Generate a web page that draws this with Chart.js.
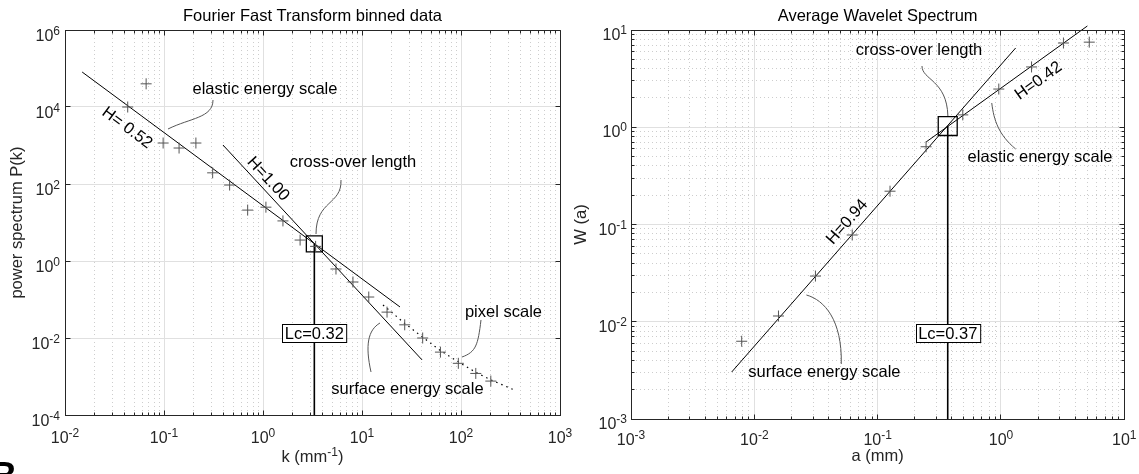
<!DOCTYPE html>
<html><head><meta charset="utf-8">
<script src="https://cdn.jsdelivr.net/npm/chart.js@4/dist/chart.umd.min.js"></script>
<style>
html,body{margin:0;padding:0;background:#fff;width:1139px;height:474px;overflow:hidden;}
#w1{position:absolute;left:0;top:0;width:580px;height:474px;}
#w2{position:absolute;left:570px;top:0;width:569px;height:474px;}
</style></head><body>
<div id="w1"><canvas id="c1"></canvas></div>
<div id="w2"><canvas id="c2"></canvas></div>
<script>
const FONT = "'Liberation Sans', Arial, Helvetica, sans-serif";

// ---------- Left panel: FFT binned data ----------
const fftK = [0.043, 0.066, 0.098, 0.142, 0.21, 0.31, 0.46, 0.70, 1.07, 1.59, 2.37, 3.4, 5.46, 8.1, 11.7, 17.9, 27, 41, 62, 94, 141, 200];
const fftP = [1.0e4, 4.0e4, 1160, 860, 1160, 195, 94, 21, 25, 11, 3.5, 2.4, 0.62, 0.285, 0.116, 0.047, 0.022, 0.010, 0.0043, 0.0022, 0.0012, 0.00076];
const fftFitElasticK = [0.0149, 24.2];
const fftFitElasticP = [8.1e4, 0.064];
const fftFitSurfaceK = [0.394, 40.4];
const fftFitSurfaceP = [1030, 0.0027];
const fftPixelK = [16.3, 27, 41, 62, 94, 141, 200, 343];
const fftPixelP = [0.072, 0.024, 0.0105, 0.0047, 0.0024, 0.00128, 0.00082, 0.00045];
const fftLc = 3.3;           // k at cross-over (Lc = 0.32 mm)
const fftCrossP = 2.77;
const fftLcBoxP = 0.0135;
const fftXExp = [-2, -1, 0, 1, 2, 3];
const fftYExp = [-4, -2, 0, 2, 4, 6];

// ---------- Right panel: average wavelet spectrum ----------
const wavA = [0.0079, 0.0157, 0.0313, 0.0622, 0.126, 0.247, 0.49, 0.96, 1.77, 3.21, 5.2];
const wavW = [0.0063, 0.01146, 0.0295, 0.078, 0.22, 0.63, 1.34, 2.47, 4.17, 7.35, 7.5];
const wavFitSurfaceA = [0.00655, 1.315];
const wavFitSurfaceW = [0.00304, 6.53];
const wavFitElasticA = [0.247, 5.02];
const wavFitElasticW = [0.705, 11.0];
const wavLc = 0.37;
const wavCrossW = 1.03;
const wavLcBoxW = 0.00766;
const wavXExp = [-3, -2, -1, 0, 1];
const wavYExp = [-3, -2, -1, 0, 1];

// ---------- annotations (data coordinates) ----------
const fftTexts = [
  {t: 'elastic energy scale', x: 1.047, y: 28500},
  {t: 'cross-over length', x: 8.11, y: 361},
  {t: 'pixel scale', x: 268.5, y: 0.0459},
  {t: 'surface energy scale', x: 28.8, y: 4.59e-4},
  {t: 'H= 0.52', x: 0.0423, y: 2850, along: 1},
  {t: 'H=1.00', x: 1.123, y: 135, along: 2}
];
const fftLeaders = [
  [[0.3126, 15200], [0.3126, 5180], [0.1831, 5180], [0.1098, 2683]],
  [[6.136, 127], [6.281, 28.5], [3.431, 38.4], [3.431, 5.02]],
  [[159.2, 0.0294], [148.5, 0.00658], [141.7, 0.00433], [102.4, 0.00321]],
  [[12.33, 0.00131], [10.72, 0.00658], [11.5, 0.01614], [15.2, 0.02455]]
];
const fftBoxes = [{t: 'Lc=0.32', x: fftLc, y: fftLcBoxP}];

const wavTexts = [
  {t: 'cross-over length', x: 0.2163, y: 6.16},
  {t: 'H=0.42', x: 2.018, y: 2.99, along: 2},
  {t: 'elastic energy scale', x: 2.075, y: 0.489},
  {t: 'H=0.94', x: 0.0567, y: 0.1062, along: 1},
  {t: 'surface energy scale', x: 0.037, y: 0.0030}
];
const wavLeaders = [
  [[0.2288, 4.264], [0.2288, 3.061], [0.3643, 3.061], [0.3712, 1.305]],
  [[1.316, 0.5976], [0.9589, 0.8324], [0.8738, 1.187], [0.8419, 1.776]],
  [[0.0507, 0.003679], [0.05163, 0.01042], [0.03695, 0.01674], [0.02644, 0.01884]]
];
const wavBoxes = [{t: 'Lc=0.37', x: wavLc, y: wavLcBoxW}];

// ---------- helpers ----------
const BASE = '16px ' + FONT, EXPF = '12px ' + FONT, TXT = '16.5px ' + FONT;
const isMajor = v => { const l = Math.log10(v); return Math.abs(l - Math.round(l)) < 1e-6; };
const zip = (xs, ys) => xs.map((x, i) => ({x, y: ys[i]}));
function tickValues(exps, minor) {
  const out = [];
  const lo = Math.min(...exps), hi = Math.max(...exps);
  if (!minor) return exps.map(e => Math.pow(10, e));
  for (let e = lo; e <= hi; e++) {
    for (let m = 1; m <= 9; m++) {
      if (e === hi && m > 1) break;
      out.push(Number((m * Math.pow(10, e)).toPrecision(12)));
    }
  }
  return out;
}
function axis(exps, minor, cfg) {
  const vals = tickValues(exps, minor);
  return {
    type: 'logarithmic',
    min: Math.pow(10, Math.min(...exps)),
    max: Math.pow(10, Math.max(...exps)),
    afterBuildTicks: s => { s.ticks = vals.map(v => ({value: v})); },
    afterFit: s => {
      if (cfg.horizontal) s.height = cfg.size; else s.width = cfg.size;
      s.paddingLeft = s.paddingRight = s.paddingTop = s.paddingBottom = 0;
    },
    grid: {
      drawTicks: false,
      lineWidth: 1,
      color: c => (c.tick && !isMajor(c.tick.value)) ? '#cdcdcd' : '#e0e0e0'
    },
    border: {
      display: true, color: '#262626', width: 1,
      dash: c => (c.tick && !isMajor(c.tick.value)) ? [1, 3] : []
    },
    ticks: {display: false, autoSkip: false},
    title: cfg.title ? {display: true, text: cfg.title, color: '#262626', font: {family: FONT, size: 16.5}, padding: cfg.titlePad} : {display: false}
  };
}
// power-of-ten label: "10" with raised exponent
function powLabel(ctx, x, baseY, e, align) {
  ctx.font = BASE; const w1 = ctx.measureText('10').width;
  ctx.font = EXPF; const es = String(e); const w2 = ctx.measureText(es).width;
  const tot = w1 + w2;
  const sx = align === 'center' ? x - tot / 2 : x - tot;
  ctx.textAlign = 'left'; ctx.textBaseline = 'alphabetic';
  ctx.font = BASE; ctx.fillText('10', sx, baseY);
  ctx.font = EXPF; ctx.fillText(es, sx + w1, baseY - 6);
}
function axesPlugin(xExp, yExp, lay, titleText, xTitle) {
  return {
    id: 'axesDeco',
    afterDatasetsDraw(chart) {
      const {ctx, chartArea: a} = chart; const xs = chart.scales.x, ys = chart.scales.y;
      const al = v => Math.round(v - 0.5) + 0.5;
      const L = al(a.left), R = al(a.right), T = al(a.top), B = al(a.bottom);
      ctx.save(); ctx.strokeStyle = '#262626'; ctx.lineWidth = 1; ctx.beginPath();
      ctx.moveTo(L, T); ctx.lineTo(R, T); ctx.lineTo(R, B);
      xs.ticks.forEach(t => { const p = al(xs.getPixelForValue(t.value)); const n = isMajor(t.value) ? 5 : 3;
        ctx.moveTo(p, B); ctx.lineTo(p, B - n); ctx.moveTo(p, T); ctx.lineTo(p, T + n); });
      ys.ticks.forEach(t => { const p = al(ys.getPixelForValue(t.value)); const n = isMajor(t.value) ? 5 : 3;
        ctx.moveTo(L, p); ctx.lineTo(L + n, p); ctx.moveTo(R, p); ctx.lineTo(R - n, p); });
      ctx.stroke();
      ctx.fillStyle = '#262626';
      xExp.forEach(e => powLabel(ctx, xs.getPixelForValue(Math.pow(10, e)), a.bottom + lay.xBase, e, 'center'));
      yExp.forEach(e => powLabel(ctx, a.left - lay.yPad, ys.getPixelForValue(Math.pow(10, e)) + lay.yBase, e, 'right'));
      // title
      ctx.fillStyle = '#000'; ctx.font = TXT; ctx.textAlign = 'center'; ctx.textBaseline = 'alphabetic';
      ctx.fillText(titleText, (a.left + a.right) / 2, 21);
      if (xTitle) {
        ctx.fillStyle = '#262626';
        const parts = [[xTitle[0], TXT, 0], [xTitle[1], EXPF, -6], [xTitle[2], TXT, 0]];
        let tot = 0; parts.forEach(p => { ctx.font = p[1]; tot += ctx.measureText(p[0]).width; });
        let sx = (a.left + a.right) / 2 - tot / 2; ctx.textAlign = 'left';
        parts.forEach(p => { ctx.font = p[1]; ctx.fillText(p[0], sx, lay.xTitleBase + p[2]); sx += ctx.measureText(p[0]).width; });
      }
      ctx.restore();
    }
  };
}
function annotPlugin(texts, leaders, boxes, extra) {
  return {
    id: 'annot',
    afterDatasetsDraw(chart) {
      const {ctx} = chart; const xs = chart.scales.x, ys = chart.scales.y;
      const P = (x, y) => [xs.getPixelForValue(x), ys.getPixelForValue(y)];
      ctx.save();
      ctx.strokeStyle = '#555'; ctx.lineWidth = 1;
      leaders.forEach(l => { const p = l.map(q => P(q[0], q[1]));
        ctx.beginPath(); ctx.moveTo(p[0][0], p[0][1]);
        ctx.bezierCurveTo(p[1][0], p[1][1], p[2][0], p[2][1], p[3][0], p[3][1]); ctx.stroke(); });
      ctx.font = TXT; ctx.textAlign = 'center'; ctx.textBaseline = 'middle';
      boxes.forEach(b => { const [px, py] = P(b.x, b.y); const w = ctx.measureText(b.t).width + 5, h = 18;
        const x0 = Math.round(px - w / 2) + 0.5, y0 = Math.round(py - h / 2) + 0.5;
        ctx.fillStyle = '#fff'; ctx.fillRect(x0, y0, w, h);
        ctx.strokeStyle = '#000'; ctx.strokeRect(x0, y0, w, h);
        ctx.fillStyle = '#000'; ctx.fillText(b.t, px, py + 1); });
      ctx.fillStyle = '#000';
      texts.forEach(t => { const [px, py] = P(t.x, t.y); ctx.save(); ctx.translate(px, py);
        if (t.along != null) { const d = chart.data.datasets[t.along].data;
          const a = P(d[0].x, d[0].y), b = P(d[d.length - 1].x, d[d.length - 1].y);
          ctx.rotate(Math.atan2(b[1] - a[1], b[0] - a[0])); }
        ctx.fillText(t.t, 0, 0); ctx.restore(); });
      ctx.restore();
      if (extra) extra(chart);
    }
  };
}
function datasetsFor(pk, pv, fit1, fit2, dotted, lc, crossY, yMin, sqR, clip2) {
  const ds = [
    {data: zip(pk, pv), pointStyle: 'cross', pointRadius: 5.5, pointBorderColor: '#555', pointBorderWidth: 1, showLine: false},
    {data: fit1, showLine: true, borderColor: '#000', borderWidth: 1, pointRadius: 0},
    {data: fit2, showLine: true, borderColor: '#000', borderWidth: 1, pointRadius: 0, clip: clip2 ? false : undefined},
    {data: [{x: lc, y: crossY}, {x: lc, y: yMin}], showLine: true, borderColor: '#000', borderWidth: 1.6, pointRadius: 0},
    {data: [{x: lc, y: crossY}], pointStyle: 'rect', pointRadius: sqR, pointBorderColor: '#000', pointBorderWidth: 1.3, pointBackgroundColor: 'rgba(0,0,0,0)', showLine: false}
  ];
  if (dotted) ds.push({data: dotted, showLine: true, borderColor: '#000', borderWidth: 1.2, borderDash: [1.5, 4], pointRadius: 0});
  return ds;
}
const baseOpts = padRight => ({
  responsive: true, maintainAspectRatio: false, animation: false, devicePixelRatio: 1,
  layout: {padding: {left: 0, right: padRight, top: 30, bottom: 0}},
  plugins: {legend: {display: false}, tooltip: {enabled: false}, title: {display: false}}
});

const opt1 = baseOpts(20);
opt1.scales = {
  x: axis(fftXExp, true, {horizontal: true, size: 59}),
  y: axis(fftYExp, false, {horizontal: false, size: 65, title: 'power spectrum P(k)', titlePad: {top: 7.9, bottom: 0}})
};
new Chart(document.getElementById('c1'), {
  type: 'scatter',
  data: {datasets: datasetsFor(fftK, fftP, zip(fftFitElasticK, fftFitElasticP), zip(fftFitSurfaceK, fftFitSurfaceP),
    zip(fftPixelK, fftPixelP), fftLc, fftCrossP, 1e-4, 11.3, false)},
  options: opt1,
  plugins: [
    axesPlugin(fftXExp, fftYExp, {xBase: 28, yPad: 5, yBase: 11, xTitleBase: 462}, 'Fourier Fast Transform binned data', ['k (mm', '-1', ')']),
    annotPlugin(fftTexts, fftLeaders, fftBoxes, chart => {
      const c = chart.ctx; c.save(); c.font = 'bold 36px ' + FONT; c.fillStyle = '#000';
      c.textAlign = 'left'; c.textBaseline = 'alphabetic'; c.fillText('B', -9, 488); c.restore();
    })]
});

const opt2 = baseOpts(13);
opt2.scales = {
  x: axis(wavXExp, true, {horizontal: true, size: 55, title: 'a (mm)', titlePad: {top: 0, bottom: 7.4}}),
  y: axis(wavYExp, true, {horizontal: false, size: 61, title: 'W (a)', titlePad: {top: 1.4, bottom: 0}})
};
new Chart(document.getElementById('c2'), {
  type: 'scatter',
  data: {datasets: datasetsFor(wavA, wavW, zip(wavFitSurfaceA, wavFitSurfaceW), zip(wavFitElasticA, wavFitElasticW),
    null, wavLc, wavCrossW, 1e-3, 13.4, true)},
  options: opt2,
  plugins: [
    axesPlugin(wavXExp, wavYExp, {xBase: 26, yPad: 4, yBase: 10}, 'Average Wavelet Spectrum', null),
    annotPlugin(wavTexts, wavLeaders, wavBoxes, null)]
});
</script>
</body></html>
